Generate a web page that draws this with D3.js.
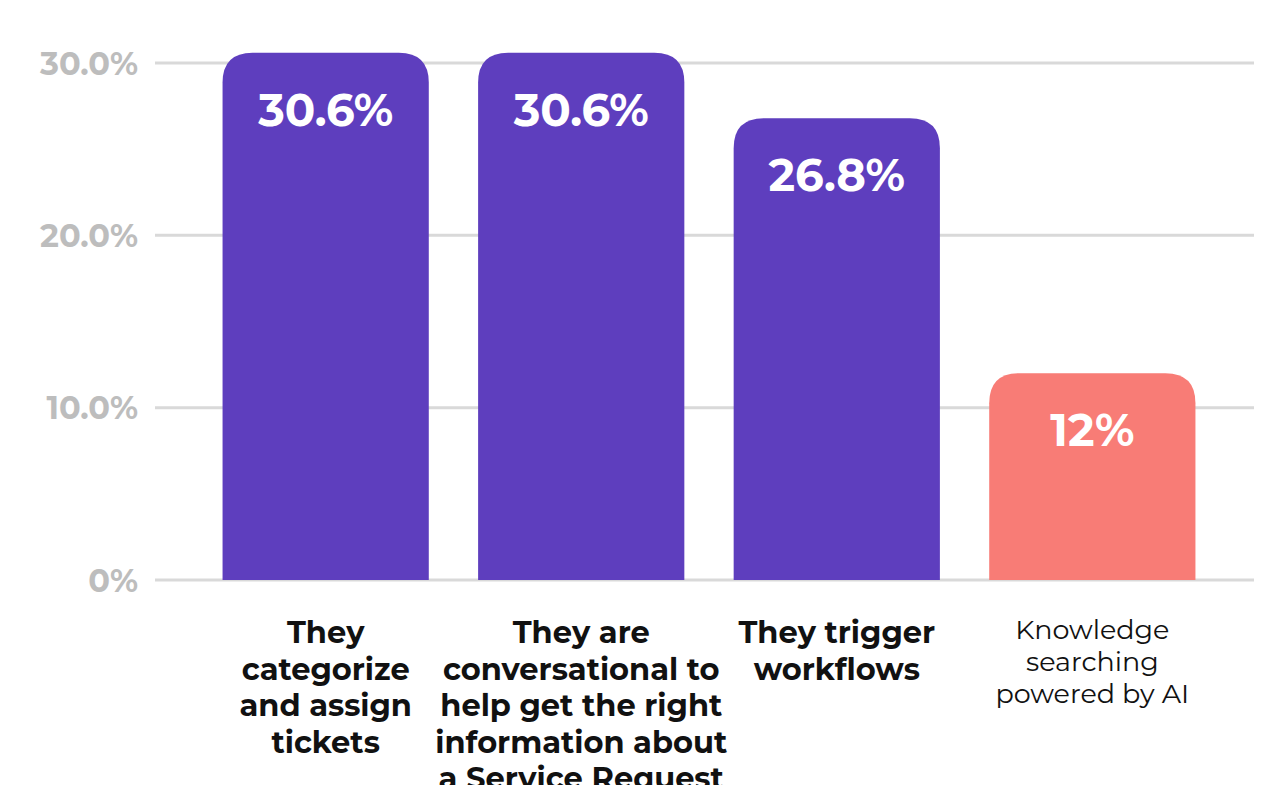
<!DOCTYPE html>
<html>
<head>
<meta charset="utf-8">
<script src="https://d3js.org/d3.v7.min.js"></script>
<style>
  body { margin: 0; background: #fff; }
  svg { display: block; font-family: Montserrat, Inter, sans-serif; }
</style>
</head>
<body>
<div id="chart"></div>
<script>
// data
var categories = [
  ["They", "categorize", "and assign", "tickets"],
  ["They are", "conversational to", "help get the right", "information about", "a Service Request"],
  ["They trigger", "workflows"],
  ["Knowledge", "searching", "powered by AI"]
];
var values = [30.6, 30.6, 26.8, 12];
var valueLabels = ["30.6%", "30.6%", "26.8%", "12%"];
var highlight = [true, true, true, false];
var yTicks = [0, 10, 20, 30];
var yTickLabels = ["0%", "10.0%", "20.0%", "30.0%"];

var width = 1275, height = 785;
var svg = d3.select("#chart").append("svg")
  .attr("width", width)
  .attr("height", height);

var x = d3.scaleBand()
  .domain(d3.range(categories.length))
  .range([197, 1221])
  .paddingInner(0.193)
  .paddingOuter(0.1);

var y = d3.scaleLinear()
  .domain([0, 30])
  .range([580, 63]);

// gridlines
svg.selectAll("line.grid")
  .data(yTicks).enter()
  .append("line")
  .attr("class", "grid")
  .attr("x1", 155)
  .attr("x2", 1254)
  .attr("y1", function (d) { return y(d); })
  .attr("y2", function (d) { return y(d); })
  .attr("stroke", "#d9d9d9")
  .attr("stroke-width", 3);

// y tick labels
svg.selectAll("text.ytick")
  .data(yTicks).enter()
  .append("text")
  .attr("class", "ytick")
  .attr("x", 138)
  .attr("y", function (d) { return y(d); })
  .attr("dy", "0.36em")
  .attr("text-anchor", "end")
  .attr("fill", "#bdbdbd")
  .style("font-size", "32px")
  .style("font-weight", 700)
  .text(function (d, i) { return yTickLabels[i]; });

// bars with rounded top corners
var r = 30;
function barPath(x0, w, top, base) {
  return "M" + x0 + "," + base +
    "V" + (top + r) +
    "Q" + x0 + "," + top + " " + (x0 + r) + "," + top +
    "H" + (x0 + w - r) +
    "Q" + (x0 + w) + "," + top + " " + (x0 + w) + "," + (top + r) +
    "V" + base + "Z";
}

svg.selectAll("path.bar")
  .data(values).enter()
  .append("path")
  .attr("class", "bar")
  .attr("fill", function (d, i) { return highlight[i] ? "#5e3ebe" : "#f87c76"; })
  .attr("d", function (d, i) {
    return barPath(x(i), x.bandwidth(), y(d), y(0));
  });

// value labels
svg.selectAll("text.value")
  .data(values).enter()
  .append("text")
  .attr("class", "value")
  .attr("x", function (d, i) { return x(i) + x.bandwidth() / 2; })
  .attr("y", function (d) { return y(d) + 73; })
  .attr("text-anchor", "middle")
  .attr("fill", "#fff")
  .style("font-size", "45px")
  .style("font-weight", 700)
  .text(function (d, i) { return valueLabels[i]; });

// category labels
var cat = svg.selectAll("text.cat")
  .data(categories).enter()
  .append("text")
  .attr("class", "cat")
  .attr("text-anchor", "middle")
  .attr("fill", "#111")
  .style("font-size", function (d, i) { return highlight[i] ? "30.5px" : "27px"; })
  .style("font-weight", function (d, i) { return highlight[i] ? 700 : 400; });

cat.each(function (lines, i) {
  var lh = highlight[i] ? 36.5 : 32;
  var y0 = highlight[i] ? 643 : 639;
  d3.select(this).selectAll("tspan")
    .data(lines).enter()
    .append("tspan")
    .attr("x", x(i) + x.bandwidth() / 2)
    .attr("y", function (d, j) { return y0 + j * lh; })
    .text(function (d) { return d; });
});
</script>
</body>
</html>
